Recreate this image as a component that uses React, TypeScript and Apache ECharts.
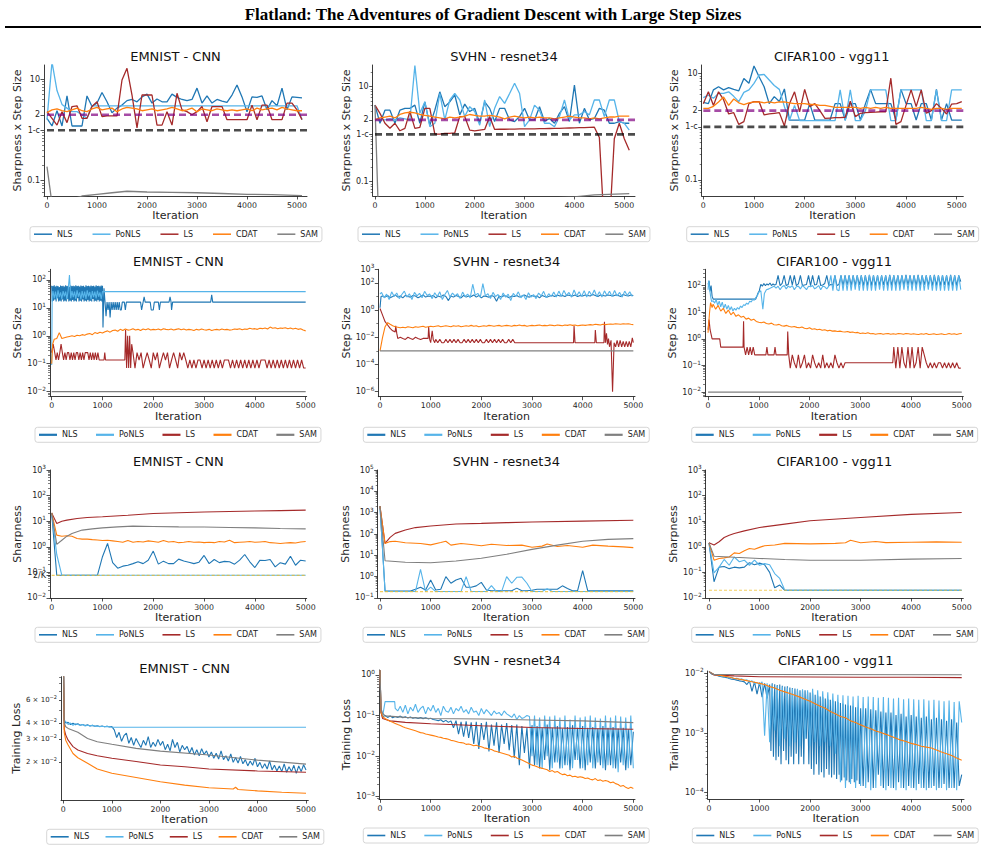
import React, { useEffect, useRef } from 'react';
import * as echarts from 'echarts';

// ---------- helpers for iteration grids ----------
const grid = (start: number, step: number, count: number): number[] =>
  Array.from({ length: count }, (_, i) => start + i * step);

// ---------- general ----------
const METHODS = ['NLS', 'PoNLS', 'LS', 'CDAT', 'SAM'];
const COLORS: Record<string, string> = {
  NLS: '#1f77b4', PoNLS: '#56b4e9', LS: '#a52a2a', CDAT: '#ff7f0e', SAM: '#7f7f7f',
};
const X_TICKS = [0, 1000, 2000, 3000, 4000, 5000];
const ONE_MINUS_C = 0.99;
const TWO = 2;
const K_EMNIST = 26, K_SVHN = 10, K_CIFAR = 100;

// ---------- tick labels ----------
const R1_TICKS = [10, 2, ONE_MINUS_C, 0.1];
const R1_LABELS = ['10', '2', '1-c', '0.1'];
const DEC2_TICKS = [100, 10, 1, 0.1, 0.01];
const DEC2_LABELS = ['10²', '10¹', '10⁰', '10⁻¹', '10⁻²'];
const SV2_TICKS = [1000, 100, 1, 0.01, 1e-4, 1e-6];
const SV2_LABELS = ['10³', '10²', '10⁰', '10⁻²', '10⁻⁴', '10⁻⁶'];
const EM3_TICKS = [1000, 100, 10, 1, 0.1, 0.01, 2 / K_EMNIST];
const EM3_LABELS = ['10³', '10²', '10¹', '10⁰', '10⁻¹', '10⁻²', '2/K'];
const SV3_TICKS = [1e5, 1e4, 1000, 100, 10, 1, 0.1, 2 / K_SVHN];
const SV3_LABELS = ['10⁵', '10⁴', '10³', '10²', '10¹', '10⁰', '10⁻¹', '2/K'];
const CI3_TICKS = [1000, 100, 10, 1, 0.1, 0.01, 2 / K_CIFAR];
const CI3_LABELS = ['10³', '10²', '10¹', '10⁰', '10⁻¹', '10⁻²', '2/K'];
const EM4_TICKS = [0.06, 0.04, 0.03, 0.02];
const EM4_LABELS = ['6 × 10⁻²', '4 × 10⁻²', '3 × 10⁻²', '2 × 10⁻²'];
const SV4_TICKS = [1, 0.1, 0.01, 0.001];
const SV4_LABELS = ['10⁰', '10⁻¹', '10⁻²', '10⁻³'];
const CI4_TICKS = [0.01, 0.001, 0.0001];
const CI4_LABELS = ['10⁻²', '10⁻³', '10⁻⁴'];

// ================= ROW 1 : Sharpness x Step Size =================
const R1_X = grid(0, 100, 52);
const EM1_NLS = [1.7,1.2,2.4,1.2,4.7,1.2,1.2,1.2,4.7,2.9, 3.4,5.5,3.6,2.2,2.7,3.1,3.8,4.0,3.6,4.5, 5.1,3.4,4.1,3.6,3.6,5.1,4.4,4.0,3.8,4.0, 6.7,3.4,4.7,3.4,4.0,3.7,3.5,4.9,7.7,4.5, 2.3,4.5,4.4,4.7,2.5,3.8,3.0,6.7,2.5,4.5, 4.4,4.3];
const EM1_PONLS_X = [0,100,200,300,400,500,600,700,800,900,5000,5100];
const EM1_PONLS = [1.6,22,6.0,3.2,2.7,2.3,2.3,2.0,1.7,3.0,3.0,1.6];
const EM1_LS = [2.3,1.7,1.25,2.3,1.4,2.9,3.0,1.7,1.7,2.9, 3.6,1.84,1.9,1.9,1.9,9.7,16.5,4.9,1.1,4.9, 4.9,4.9,1.25,1.25,2.3,1.25,5.3,2.5,2.3,2.0, 2.3,2.9,1.46,2.9,2.9,2.9,1.6,1.6,1.6,1.6, 1.6,3.1,1.6,3.1,3.1,1.6,1.6,1.6,3.4,3.4, 2.5,1.6];
const EM1_CDAT = [2.2,2.5,2.6,2.4,2.3,2.5,2.7,2.4,2.3,2.6, 2.8,2.5,2.6,2.7,2.3,2.6,2.8,2.7,2.6,2.4, 2.5,2.6,2.4,2.5,2.6,2.8,2.6,2.4,2.5,2.7, 2.3,2.6,2.5,2.4,2.6,2.5,2.4,2.5,2.4,2.5, 2.6,2.4,2.7,2.5,2.6,2.7,2.5,2.8,2.6,2.5, 2.4,2.4];
const EM1_SAM_X = [0,100,300,500,700,1000,1300,1600,2000,2500,3000,3500,4000,4500,5100];
const EM1_SAM = [0.19,0.035,0.038,0.043,0.05,0.054,0.058,0.062,0.06,0.059,0.058,0.056,0.054,0.053,0.051];

const SV1_NLS = [4.1,1.7,3.2,3.2,1.7,3.2,3.5,3.5,4.1,1.7, 4.8,1.55,3.2,7.8,3.8,4.8,6.7,2.55,4.3,3.0, 3.5,1.7,4.8,3.5,1.85,3.5,3.5,2.0,1.85,2.35, 3.5,2.0,2.0,3.8,1.85,2.15,1.7,2.75,3.8,1.85, 10.8,1.7,3.5,2.0,2.15,3.5,3.2,1.7,1.7,1.85, 1.7,1.7];
const SV1_PONLS = [2.0,2.0,2.0,2.1,2.0,2.2,2.1,2.0,28,2.75, 4.8,1.44,1.7,7.2,2.0,5.25,7.2,5.25,2.35,3.8, 3.0,1.55,5.25,1.44,3.5,6.2,4.45,7.2,11.8,7.2, 1.44,2.0,4.1,3.2,1.7,1.7,1.44,2.35,5.25,2.0, 2.55,2.55,3.0,2.55,5.25,5.25,2.35,5.25,5.25,1.85, 1.7,1.22];
const SV1_LS = [4.1,2.75,1.7,1.33,1.7,1.18,1.33,3.0,1.33,1.4, 3.5,3.5,1.0,1.0,1.04,1.04,1.07,2.35,2.35,1.22, 1.18,1.22,1.26,2.35, 1.26,1.27,1.27,1.28,1.28,1.29,1.29,1.30,1.30,1.31,1.31,1.32,1.33,1.33,1.34,1.35,1.36,1.37,1.38,1.39,1.4, 0.85,0.01,0.01,0.8,1.7,0.8,0.46];
const SV1_CDAT = [2.0,2.2,2.3,2.4,2.2,2.6,2.8,2.9,2.8,2.6, 2.5,2.4,2.3,2.2,2.1,2.3,2.2,2.3,2.4,2.6, 2.5,2.4,2.4,2.5,2.4,2.3,2.1,2.3,2.4,2.3, 2.2,2.3,2.2,2.3,2.2,2.2,2.1,2.2,2.3,2.4, 2.3,2.2,2.2,2.1,2.2,2.1,2.2,2.3,2.3,2.4, 2.4,2.4];
const SV1_SAM_X = [0,60,100,4000,4400,5100];
const SV1_SAM = [4.1,0.04,0.03,0.048,0.053,0.056];

const CI1_NLS = [2.85,2.7,4.9,5.6,4.9,5.4,5.0,4.7,8.0,6.5, 13.7,8.6,5.6,2.7,3.65,2.95,5.1,1.33,1.33,1.33, 1.33,2.7,1.33,1.33,1.33,1.33,2.7,2.7,1.33,2.7, 2.7,1.33,2.7,5.0,2.7,2.7,2.7,2.7,1.33,5.0, 2.7,2.7,1.33,2.7,2.7,1.33,5.0,1.33,2.7,1.33, 1.33,1.33];
const CI1_PONLS = [3.5,3.9,3.4,4.2,4.2,4.5,3.7,2.95,4.4,4.9, 6.5,9.3,9.5,7.5,5.9,5.0,2.37,1.3,2.5,1.3, 1.3,1.3,1.3,1.3,1.3,1.3,1.3,4.9,1.3,4.9, 1.3,1.3,2.0,4.9,4.9,4.9,4.9,1.3,1.3,4.9, 4.9,4.9,4.9,4.9,1.3,1.3,4.9,1.3,1.3,4.9, 4.9,4.9];
const CI1_LS = [2.7,4.5,2.5,4.5,3.2,1.73,1.83,1.1,1.24,2.7, 2.95,2.95,1.66,1.73,1.78,1.83,1.03,2.7,4.5,1.9, 5.0,2.37,2.7,2.0,1.43,1.45,1.47,1.48,1.5,3.0, 1.54,1.78,1.83,1.85,1.87,1.9,1.9,8.1,1.1,1.24, 2.5,4.9,2.37,4.9,1.78,2.0,2.7,2.2,1.73,2.65, 2.7,2.95];
const CI1_CDAT = [2.2,2.2,2.4,2.9,3.6,2.5,3.3,2.8,2.6,2.8, 2.9,2.9,2.8,2.9,2.8,2.9,2.9,2.8,2.7,2.7, 2.7,2.6,2.6,2.5,2.5,2.4,2.3,2.3,2.3,2.3, 2.3,2.2,2.3,2.2,2.3,2.2,2.3,2.2,2.2,2.2, 2.2,2.2,2.2,2.3,2.2,2.1,2.2,2.2,2.1,2.2, 2.2,2.2];
const CI1_SAM_X = [0, 5100];
const CI1_SAM = [0.02, 0.02];

// ================= ROW 2 : Step Size =================
const EM2_NLS_X = grid(0, 12.5, 81).concat([1010,1030,1050,1070,1090,1110,1130,1150,1170,1190,1210,1230,1250,1270,1290,1310,1330,1350,1370,1390,1430,1450,1470,1750,1770,1800,1820,1840,1940,1960,2000,2020,2100,2120,2140,2310,2330,2350,2360,2380,3130,3150,3170,5000]);
const EM2_NLS = [62,17,60,18,64,20,58,17,62,22, 60,17,56,18,63,17,60,20,62,17, 58,18,64,17,60,21,62,17,57,18, 63,17,60,19,62,17,59,18,64,17, 60,22,62,17,58,18,63,17,61,20, 62,17,57,18,64,17,60,19,62,17, 59,18,63,17,60,21,62,17,58,18, 64,17,60,19,62,17,59,18,63,17, 62,
  2.0,50,16,5,16,8.4,16,4.5,16,8.4, 16,8.4,16,8.4,16,8.4,16,8.4,8.4,16, 16,8.4,16,16,8.4,16,25,16,16,8.4, 8.4,16,16,8.4,16,16,25,16,8.4,16, 16,29,16,16];
const EM2_PONLS_X = [0, 10].concat(grid(25, 25, 40), [5000]);
const EM2_PONLS = [0.09,25, 40,22,38,20,42,24,36,21,40,26, 38,20,44,150,22,40,24,38,21,42, 25,36,20,40,23,38,21,42,26,37, 20,40,24,38,22,41,25,36,21,38, 38];
const EM2_LS_X = [0,30,60].concat(grid(85,25,35),[960,1030,1045,1060,1440],[1455,1475,1495,1515,1535,1555,1575],grid(1600,40,28),grid(2720,40,58));
const EM2_LS = [0.25,0.5,0.25,
  0.136,0.25,0.136,0.25,0.5,0.25,0.136,0.25,0.136,0.25, 0.25,0.136,0.25,0.136,0.25,0.136,0.25,0.25,0.136,0.25, 0.136,0.25,0.136,0.25,0.25,0.25,0.136,0.25,0.136,0.25, 0.136,0.25,0.136,0.25,0.136,
  0.136,0.136,0.25,0.136,0.136,
  1.6,0.07,1.0,0.07,1.0,0.07,0.5,
  0.25,0.07,0.25,0.136,0.25,0.07,0.136,0.25,0.136,0.07, 0.25,0.136,0.25,0.07,0.136,0.25,0.136,0.25,0.07,0.136, 0.25,0.136,0.07,0.25,0.136,0.25,0.136,0.07,
  0.136,0.07,0.136,0.07,0.136,0.136,0.07,0.136,0.07,0.136, 0.07,0.136,0.07,0.136,0.07,0.136,0.07,0.136,0.136,0.136, 0.07,0.136,0.07,0.136,0.07,0.136,0.07,0.136,0.07,0.136, 0.07,0.136,0.07,0.136,0.07,0.136,0.136,0.136,0.07,0.136, 0.07,0.136,0.07,0.136,0.07,0.136,0.07,0.136,0.07,0.136, 0.07,0.136,0.07,0.136,0.07,0.136,0.07,0.07];
const EM2_CDAT_X = [0,20,50].concat(grid(100,50,99));
const EM2_CDAT = [0.1,0.5,0.75,
  0.8,1.3,0.8,0.85,0.9,0.95,1.0,0.95,1.05,1.0, 1.1,1.05,1.15,1.2,1.1,1.3,1.2,1.35,1.25,
  1.4,1.5,1.35,1.55,1.6,1.45,1.7,1.55,1.75,1.6, 1.65,1.8,1.6,1.7,1.55,1.75,1.65,1.8,1.6,1.7, 1.65,1.75,1.6,1.8,1.7,1.65,1.75,1.6,1.7,1.8, 1.65,1.75,1.6,1.7,1.65,1.55,1.7,1.6,1.75,1.65,
  1.6,1.7,1.55,1.65,1.7,1.6,1.75,1.65,1.7,1.6, 1.65,1.75,1.7,1.8,1.65,1.75,1.7,1.85,1.75,1.8, 1.7,1.85,1.8,1.9,1.75,2.05,1.85,1.95,1.8,1.9, 1.85,1.95,1.8,1.9,1.75,1.85,1.7,1.8,1.6,1.5];
const EM2_SAM_X = [0, 5000];
const EM2_SAM = [0.01, 0.01];

const SV2_NLS_X = [0, 20].concat(grid(50, 50, 100));
const SV2_NLS = [1.5, 10,
  11,9,12,8,10,13,9,11,8,12, 10,9,12,11,8,10,13,9,11,10, 12,8,11,9,13,10,5,11,9,12, 10,8,12,9,11,10,13,9,12,8, 11,10,9,12,10,4.5,11,9,12,10,
  8,11,10,12,9,11,13,10,9,12, 10,11,8,12,10,9,11,12,10,13, 11,12,10,13,12,11,13,10,12,11, 13,12,11,14,12,10,13,12,11,13, 12,11,13,12,10,14,12,11,13,12];
const SV2_PONLS_X = [0].concat(grid(30, 50, 100));
const SV2_PONLS = [15,
  20,8,15,6,22,10,18,7,14,25, 9,16,6,20,11,17,8,24,12,15, 7,19,10,22,6,14,28,9,18,11, 16,7,21,10,15,8,80,12,17,9, 90,11,16,7,20,10,14,6,18,9,
  15,5,17,10,22,8,13,6,19,9, 14,7,18,11,24,8,16,10,21,9, 25,10,28,12,20,9,30,11,22,10, 27,9,24,12,30,10,22,9,26,12, 24,10,28,11,20,9,25,12,22,10];
const SV2_LS_X = [0,50,100,150,200,250,300,310,330,350,400,450,500,550,600,650,700,750,800,850,900,950,960,980,1000,1030,1050,1080]
  .concat(grid(1100, 40, 41), [2720,3820,3830,3850,4240,4250,4270,4420,4430,4450,4470,4490,4510,4530,4560,4590,4620,4650,4680,4710,4740,4770,4800,4830,4860,4890,4920,4950,4980,5000]);
const SV2_LS = [1.3,0.43,0.14,0.08,0.045,0.03,0.025,0.07,0.02,0.0083, 0.01,0.0083,0.007,0.01,0.0083,0.007,0.01,0.0083,0.007,0.0083, 0.0083,0.0083,0.06,0.007,0.004,0.03,0.007,0.004,
  0.007,0.004,0.007,0.004,0.004,0.007,0.004,0.007,0.004,0.007, 0.004,0.007,0.004,0.004,0.007,0.004,0.007,0.004,0.007,0.004, 0.007,0.004,0.007,0.004,0.004,0.007,0.004,0.007,0.004,0.007, 0.004,0.007,0.004,0.007,0.004,0.004,0.007,0.004,0.007,0.004, 0.004,
  0.004,0.004,0.07,0.004,0.004, 0.034,0.004,0.004,0.14,0.004, 0.02,0.003,0.008,0.002,0.006, 1e-6,0.004,0.002,0.006,0.002, 0.006,0.002,0.005,0.002,0.005, 0.002,0.005,0.002,0.009,0.004];
const SV2_CDAT_X = [0,50,100,150].concat(grid(200, 50, 97));
const SV2_CDAT = [0.001,0.01,0.06,0.12,
  0.09,0.07,0.06,0.055,0.05,0.055,0.05,0.06,0.055,0.05,0.06,0.055,0.06,0.065,0.055,0.06,0.065,
  0.06,0.065,0.07,0.06,0.065,0.07,0.065,0.06,0.07,0.065, 0.07,0.06,0.065,0.07,0.065,0.075,0.065,0.07,0.06,0.065,
  0.07,0.065,0.075,0.07,0.065,0.07,0.075,0.065,0.07,0.075, 0.07,0.065,0.075,0.07,0.08,0.07,0.075,0.065,0.07,0.075,
  0.07,0.075,0.08,0.07,0.075,0.07,0.08,0.075,0.07,0.08, 0.075,0.07,0.08,0.075,0.085,0.075,0.08,0.07,0.075,0.08,
  0.075,0.08,0.085,0.08,0.09,0.085,0.08,0.09,0.085,0.09, 0.095,0.09,0.1,0.095,0.09,0.1,0.095,0.1,0.09,0.085];
const SV2_SAM_X = [0, 5000];
const SV2_SAM = [0.001, 0.001];

const CI2_NLS_X = [0,20,40,60,80,100,940,980,1010,1040,1070,1100,1130,1160,1190,1220,1250,1280,1310,1340].concat(grid(1380, 40, 91));
const CI2_NLS = [110,150,60,100,40,31,31,50,64,110,95,120,100,115,105,125,100,115,105,110,
  240,100,120,240,100,110,240,105,240,100, 115,240,100,105,110,240,100,240,105,110, 240,100,105,120,240,100,110,105,240,100,
  110,240,100,240,105,240,100,240,100,240, 105,240,100,240,100,250,100,240,100,240, 100,240,105,240,100,250,100,240,100,240,
  100,240,100,250,105,240,100,240,100,250, 100,240,105,240,100,240,100,250,100,240, 100,240,105,240,100,250,100,240,100,240, 140];
const CI2_PONLS_X = [0,15,30,50,70,100].concat(grid(130,30,30),[1040,1080,1110,1150,1200,1250,1300],grid(1340,40,27),grid(2420,40,65));
const CI2_PONLS = [70,155,80,40,25,27,
  22,30,18,26,16,24,14,20,13,18, 12,16,11,14,12,15,13,17,15,19, 18,22,20,26,24,30,28,36,40,56,
  64,13,50,70,75,85,95,
  80,95,70,90,100,75,95,85,100,70, 90,95,75,100,85,70,95,90,100,75, 85,100,70,95,90,75,95,
  240,64,240,70,64,240,64,240,64,240, 64,240,70,240,64,240,64,240,64,250, 64,240,64,240,70,240,64,240,64,240,
  64,250,64,240,64,240,70,240,64,240, 64,240,64,250,64,240,64,240,70,240, 64,240,64,240,64,250,64,240,64,240, 64,240,64,240,70];
const CI2_LS_X = [0,20,40,80,100,230,250,690,700,710,740,770,800,830,860,890,920,950,1140,1160,1180,1300,1320,1340,1560,1570,1590]
  .concat(grid(1620,40,28),[2720,3640],grid(3660,40,16),grid(4300,40,18));
const CI2_LS = [2.2,5.3,2.2,1.0,1.0,1.0,0.49,0.49,4.6,0.49,0.25,0.49,0.25,0.49,0.25,0.49,0.25,0.25,0.25,0.49,0.25,0.25,0.49,0.25,0.25,1.9,0.25,
  0.08,0.25,0.127,0.08,0.25,0.08,0.127,0.25,0.08,0.127, 0.08,0.25,0.127,0.08,0.127,0.08,0.25,0.08,0.127,0.08, 0.127,0.08,0.25,0.127,0.08,0.127,0.08,0.127,
  0.127,0.127,
  0.49,0.08,0.49,0.08,0.49,0.127,0.08,0.49,0.08,0.49, 0.08,0.127,0.49,0.08,0.49,0.25,
  0.127,0.08,0.127,0.08,0.127,0.08,0.127,0.127,0.08,0.127, 0.08,0.127,0.08,0.127,0.08,0.127,0.08,0.08];
const CI2_CDAT_X = [0,30,50,80,100].concat(grid(150,50,98));
const CI2_CDAT = [1.7,10,23,15,20,
  13,18,11,14,9,12,8,10,7,8, 6.5,7,5.5,6,5,5.5,4.5,4.2,
  4,4.3,3.8,3.6,3.9,3.4,3.3,3.5,3.1,3.0, 3.2,2.9,2.8,2.9,2.7,2.6,2.8,2.5,2.4,2.6,
  2.3,2.4,2.2,2.3,2.1,2.2,2.0,2.1,1.95,2.0, 1.9,1.95,1.85,1.8,1.9,1.75,1.8,1.7,1.75,1.6,
  1.65,1.6,1.7,1.55,1.6,1.5,1.55,1.6,1.5,1.55, 1.6,1.5,1.55,1.5,1.6,1.55,1.5,1.6,1.55,1.5,
  1.55,1.5,1.45,1.55,1.5,1.6,1.45,1.5,1.55,1.45, 1.5,1.55,1.45,1.5,1.6,1.5,1.55,1.45,1.55,1.6];
const CI2_SAM_X = [0, 5000];
const CI2_SAM = [0.01, 0.01];

// ================= ROW 3 : Sharpness =================
const R3_X = grid(0, 100, 51);
const EM3_NLS = [21,0.077,0.077,0.077,0.077,0.077,0.077,0.077,0.077,0.077, 0.41,1.35,0.24,0.146,0.175,0.19,0.22,0.26,0.22,0.30, 0.68,0.21,0.275,0.22,0.22,0.33,0.28,0.25,0.22,0.25, 0.46,0.22,0.32,0.24,0.27,0.26,0.21,0.30,0.50,0.26, 0.155,0.30,0.29,0.32,0.165,0.24,0.21,0.43,0.19,0.30, 0.28];
const EM3_PONLS_X = [0,100,200,5000];
const EM3_PONLS = [21,0.5,0.077,0.077];
const EM3_LS_X = [0,100,200,300,500,700,1000,1500,2000,2500,3000,3500,4000,4500,5000];
const EM3_LS = [21,8.1,10,11,12.7,14,15,17,20,21.5,23,24,25,26,27];
const EM3_CDAT = [21,2.85,2.6,2.7,2.6,2.1,2.0,2.0,1.9,1.85, 1.75,1.8,1.7,1.6,1.5,1.75,1.5,1.6,1.55,1.7, 1.6,1.5,1.75,1.55,1.6,1.45,1.5,1.6,1.5,1.55, 1.45,1.5,1.45,1.6,1.55,1.8,1.45,1.5,1.55,1.6, 1.5,1.55,1.6,1.45,1.4,1.35,1.4,1.45,1.4,1.55, 1.6];
const EM3_SAM_X = [0,100,200,300,400,600,800,1000,1300,1600,2000,2500,3000,3500,4000,4500,5000];
const EM3_SAM = [21,1.24,1.8,2.6,3.3,4.5,5.0,5.5,6.0,6.4,6.2,6.0,5.9,5.7,5.5,5.2,5.0];

const SV3_NLS = [2000,0.22,0.21,0.21,0.21,0.21,0.21,0.255,0.32,0.237, 0.70,0.237,0.255,1.0,0.49,0.70,0.84,0.32,0.32,0.37, 0.54,0.237,0.22,0.22,0.22,0.22,0.22,0.29,0.22,0.22, 0.23,0.255,0.255,0.255,0.255,0.255,0.37,0.28,0.22,0.22, 1.9,0.22,0.22,0.22,0.22,0.22,0.22,0.22,0.22,0.22, 0.22];
const SV3_PONLS = [2000,0.2,0.2,0.2,0.2,0.2,0.2,0.2,2.2,0.2, 0.32,0.2,0.2,0.2,0.2,0.2,0.2,1.0,0.2,0.2, 0.2,0.2,0.38,0.2,0.2,1.0,0.49,0.93,0.95,0.49, 0.2,0.2,0.2,0.27,0.2,0.2,0.2,0.2,0.2,0.2, 0.2,0.2,0.2,0.2,0.2,0.2,0.2,0.2,0.2,0.2, 0.2];
const SV3_LS_X = [0,100,200,300,500,700,1000,1500,2000,2500,3000,4000,5000];
const SV3_LS = [2000,36,69,107,155,200,237,295,316,340,365,400,440];
const SV3_CDAT_X = [0,100,200,300,500,800,1000,1200,1300,1400,1600,1800,2000,2200,2500,2800,3000,3200,3300,3500,3700,4000,4200,4500,4800,5000];
const SV3_CDAT = [2000,36,44,46,39,36,31,40,46,30,36,32,28,33,29,30,24,27,34,26,29,24,30,27,25,23];
const SV3_SAM_X = [0,100,500,1000,1500,2000,2500,3000,3500,4000,4500,5000];
const SV3_SAM = [2000,5.6,4.7,4.5,5.4,7.3,11.2,19,30,46,56,61];

const CI3_EARLY_X = grid(0, 100, 16).concat([5000]);
const CI3_NLS = [1.43,0.043,0.16,0.17,0.14,0.16,0.15,0.16,0.24,0.2,0.23,0.2,0.1,0.025,0.032,0.02,0.02];
const CI3_PONLS = [1.43,0.095,0.16,0.32,0.19,0.4,0.26,0.3,0.19,0.3,0.19,0.22,0.2,0.09,0.058,0.02,0.02];
const CI3_LS_X = [0,100,200,300,400,500,700,1000,1500,2000,3000,4000,5000];
const CI3_LS = [1.43,1.17,1.57,2.3,2.8,3.3,4.2,5.7,7.7,10.4,14,18.5,22];
const CI3_CDAT_X = [0,100,200,300,400,500,600,700,800,900,1000,1100,1300,1500,2000,2500,2700,2800,3000,3300,3500,4000,4500,5000];
const CI3_CDAT = [1.43,0.30,0.35,0.37,0.4,0.58,0.55,0.7,0.86,0.8,0.95,1.1,1.17,1.36,1.3,1.36,1.43,1.8,1.43,1.6,1.45,1.5,1.55,1.5];
const CI3_SAM_X = [0,100,500,1000,1500,2000,3000,4000,5000];
const CI3_SAM = [1.43,0.43,0.39,0.35,0.32,0.30,0.30,0.33,0.35];

// ================= ROW 4 : Training Loss =================
const EM4_NLS_X = [0,20].concat(grid(50,50,99),[5000]);
const EM4_NLS = [0.15,0.042,
  0.04,0.0405,0.039,0.0398,0.0388,0.0395,0.0385,0.039,0.0383,0.0388,0.038,0.0384,0.0378,0.0382,0.0376,0.038,0.0375,0.0378,0.0374,0.0376,
  0.0355,0.031,0.034,0.029,0.032,0.0335,0.028,0.031,0.027,0.0305, 0.028,0.026,0.0295,0.027,0.0315,0.026,0.0285,0.0265,0.03,0.027,
  0.029,0.025,0.0275,0.0245,0.03,0.026,0.0285,0.024,0.027,0.025, 0.0265,0.0235,0.026,0.0228,0.025,0.0225,0.0255,0.023,0.0245,0.022,
  0.024,0.0215,0.0235,0.0212,0.0245,0.021,0.0225,0.0205,0.0232,0.02, 0.0218,0.0198,0.0222,0.0195,0.021,0.0188,0.0205,0.019,0.0215,0.0185,
  0.02,0.018,0.0195,0.0178,0.0205,0.0175,0.019,0.0172,0.0188,0.017, 0.0195,0.0168,0.0185,0.017,0.019,0.0165,0.0188,0.017,0.0192,
  0.0175];
const EM4_PONLS_X = [0,20].concat(grid(50,50,20),[5000]);
const EM4_PONLS = [0.15,0.042, 0.041,0.039,0.040,0.0385,0.0395,0.039,0.0385,0.039,0.038,0.0385,0.038,0.0385,0.0378,0.038,0.0375,0.0378,0.0375,0.0377,0.0375,0.0372, 0.0372];
const EM4_LS_X = [0,20,50,100,200,300,500,700,1000,1500,2000,2500,3000,4000,5000];
const EM4_LS = [0.15,0.036,0.0324,0.0296,0.0264,0.0249,0.0234,0.0225,0.0215,0.0203,0.0191,0.0185,0.0178,0.0172,0.0168];
const EM4_CDAT_X = [0,20,50,100,200,300,500,700,1000,1500,2000,2500,3000,3500,3550,3600,4000,4500,5000];
const EM4_CDAT = [0.15,0.034,0.0296,0.0272,0.0234,0.0217,0.0197,0.0178,0.0165,0.0153,0.0142,0.0134,0.0128,0.0125,0.0129,0.0124,0.0121,0.0118,0.0116];
const EM4_SAM_X = [0,20,50,100,300,500,700,1000,1500,2000,3000,4000,5000];
const EM4_SAM = [0.15,0.04,0.0375,0.0364,0.034,0.0305,0.0288,0.0275,0.0256,0.0244,0.0228,0.0208,0.0194];

const SV4_NLS_X = [0,20].concat(grid(50,50,100));
const SV4_NLS = [1.3,0.12,
  0.094,0.1,0.09,0.098,0.088,0.095,0.09,0.097,0.088,0.093, 0.087,0.092,0.086,0.09,0.085,0.089,0.084,0.088,0.083,0.086,
  0.08,0.078,0.075,0.079,0.07,0.076,0.068,0.074,
  0.05,0.075,0.035,0.07,0.03,0.072,0.028,0.068,
  0.02,0.07,0.015,0.065,0.025,0.07,0.013,0.06,0.018,0.068,0.012,0.06,0.02,0.065,0.014,0.058,
  0.009,0.06,0.006,0.055,0.012,0.05,0.005,0.058,
  0.006,0.055,0.005,0.05,0.008,0.06,0.0045,0.05,0.007,0.055, 0.005,0.048,0.006,0.052,0.0045,0.058,0.008,0.05,0.005,0.055,
  0.0045,0.05,0.007,0.052,0.005,0.048,0.006,0.055,0.0045,0.05, 0.006,0.052,0.005,0.048,0.007,0.05,0.0045,0.046,0.006,0.04];
const SV4_PONLS_X = [0,20,50,100,290,300].concat(grid(350,50,94));
const SV4_PONLS = [1.3,0.12,0.094,0.22,0.22,0.15,
  0.13,0.17,0.12,0.18,0.11,0.16,0.13,0.19,0.12,0.15, 0.17,0.11,0.16,0.13,0.18,0.12,0.15,0.1,0.17,0.13,
  0.12,0.16,0.11,0.15,0.13,0.17,0.12,0.14,0.11,0.16, 0.12,0.13,0.1,0.15,0.11,0.14,0.12,0.1,0.13,0.11, 0.12,0.1,0.13,0.11,
  0.1,0.09,0.11,0.08,0.1,0.085,0.09,0.1,0.095,0.01,
  0.1,0.006,0.09,0.005,0.1,0.01,0.095,0.005,0.1,0.007, 0.09,0.005,0.1,0.006,0.08,0.005,0.1,0.008,0.09,0.005,
  0.095,0.006,0.1,0.005,0.09,0.007,0.085,0.005,0.1,0.006, 0.09,0.005,0.1,0.004,0.095,0.006,0.09,0.005,0.1,0.005];
const SV4_LS_X = [0,20,50,200,500,1000,2000,3000,4000,5000];
const SV4_LS = [1.3,0.12,0.085,0.074,0.068,0.063,0.056,0.051,0.048,0.046];
const SV4_CDAT_X = [0,20].concat(grid(50,50,100));
const SV4_CDAT = [1.3,0.12,
  0.094,0.085,0.078,0.072,0.068,0.064,0.06,0.057,0.053,0.05, 0.048,0.046,0.044,0.042,0.04,0.038,0.037,0.035,0.034,0.033,
  0.032,0.031,0.0295,0.029,0.0275,0.027,0.026,0.0245,0.024,0.023, 0.022,0.0215,0.021,0.0195,0.02,0.019,0.018,0.0185,0.0175,0.017,
  0.016,0.0155,0.015,0.0145,0.0135,0.013,0.0125,0.012,0.0115,0.011, 0.0105,0.0095,0.01,0.009,0.0085,0.008,0.0075,0.007,0.0065,0.006,
  0.0058,0.0055,0.0052,0.005,0.0048,0.0046,0.0042,0.0044,0.004,0.0042, 0.0038,0.0035,0.0036,0.0033,0.0034,0.0031,0.0032,0.003,0.0031,0.003,
  0.0028,0.0029,0.0027,0.0026,0.0028,0.0025,0.0026,0.0024,0.0025,0.0024, 0.0022,0.0023,0.0021,0.002,0.0018,0.0019,0.0017,0.0016,0.0017,0.0016];
const SV4_SAM_X = [0,20,50,100,500,1000,2000,3000,4000,5000];
const SV4_SAM = [1.3,0.15,0.114,0.098,0.09,0.085,0.082,0.078,0.074,0.067];

const CI4_NLS_X = [0].concat(grid(50,50,24), grid(1225,25,72), grid(3050,50,40));
const CI4_NLS = [0.0107,
  0.0098,0.0095,0.0093,0.009,0.0088,0.0086,0.0085,0.0082,0.008,0.0079,0.0077,0.0075,0.0074,0.0072,
  0.0065,0.0075,0.005,0.0072,0.0045,0.007,0.004,0.0068,0.0038,0.0065,
  0.0005,0.0068,0.0004,0.0066,0.00035,0.0064,0.0004,0.0065,0.0003,0.0062,0.0005,0.006,0.00035,0.0061,0.0003,0.0058,
  0.0004,0.0057,0.0003,0.0056,0.00045,0.0054,0.0003,0.0052,0.0004,0.005,0.0003,0.0052,0.0008,0.0049,0.0003,0.0048,
  0.00025,0.0046,0.0002,0.0044,0.0003,0.0042,0.0002,0.0041,0.00022,0.004,0.00018,0.0038,0.00025,0.0037,0.0002,0.0036,0.00018,0.0035,0.0002,0.0034,
  0.00017,0.0033,0.0002,0.0032,0.00016,0.0031,0.00018,0.003,0.00016,0.0029,0.00015,0.0029,0.00017,0.0028,0.00015,0.0027,0.00016,0.0027,0.00014,0.0026,
  0.00013,0.0026,0.00015,0.0025,0.00012,0.0024,0.0002,0.0023,0.00012,0.0022, 0.00013,0.0022,0.00012,0.002,0.00015,0.0021,0.00012,0.0019,0.00013,0.002,
  0.00012,0.0019,0.00014,0.0018,0.00012,0.0019,0.00012,0.0017,0.00013,0.0018, 0.00012,0.0017,0.00014,0.0016,0.00012,0.0017,0.00012,0.0015,0.00013,0.0002];
const CI4_PONLS_X = [0].concat(grid(50,50,100));
const CI4_PONLS = [0.0107,
  0.0099,0.0096,0.0094,0.0092,0.009,0.0087,0.0089,0.0084,0.0086,0.0081, 0.0083,0.0079,0.0081,0.0076,0.0078,0.0072,0.0075,0.0068,0.007,0.0064,
  0.0072,0.0009,0.0068,0.0007,0.0065,0.0011,0.0062,0.0006,0.006,0.0008, 0.0058,0.0006,0.0056,0.0007,0.0055,0.0006,0.0054,0.0008,0.0052,0.0006,
  0.0055,0.0007,0.0052,0.0006,0.005,0.0007,0.0048,0.0006,0.0046,0.00045,
  0.0044,0.00015,0.0043,0.00012,0.0042,0.00014,0.0041,0.00012,0.0042,0.00013, 0.004,0.00012,0.0041,0.00011,0.004,0.00012,0.0039,0.00013,0.004,0.00011,
  0.0039,0.00012,0.0038,0.00011,0.0039,0.00012,0.0037,0.00011,0.0038,0.00012, 0.0037,0.00011,0.0036,0.00012,0.0037,0.00011,0.0035,0.00012,0.0036,0.00011,
  0.0035,0.00012,0.0034,0.00011,0.0035,0.00012,0.0033,0.00011,0.0034,0.0015];
const CI4_LS_X = [0,100,500,1000,2000,3000,4000,5000];
const CI4_LS = [0.0107,0.0094,0.0091,0.0088,0.0087,0.0086,0.0086,0.0085];
const CI4_CDAT_X = grid(0,100,51);
const CI4_CDAT = [0.0107,0.0096,0.0093,0.009,0.0087,0.0082,0.008,0.0077,0.0074,0.0071, 0.0068,0.0065,0.006,0.0057,0.0052,0.0049,0.0046,0.0043,0.004,0.0037, 0.0034,0.0031,0.0028,0.0026,0.0023,0.0021,0.0019,0.0018,0.0016,0.0015, 0.00137,0.00126,0.00118,0.00108,0.00102,0.00095,0.00088,0.00082,0.00076,0.00072, 0.00067,0.00064,0.0006,0.00058,0.00056,0.00052,0.00048,0.00045,0.00042,0.00038, 0.00035];
const CI4_SAM_X = [0,100,5000];
const CI4_SAM = [0.0107,0.0096,0.0095];

// ---------- layout / styling ----------
type Ser = { name: string; x: number[]; y: number[] };
type HL = { v: number; color: string; width: number; dash: number[]; x0: number; x1: number };
type Panel = {
  title: string; tx: number; ty: number;
  yName: string; yGap: number; xGap: number;
  box: number[]; xr: number[]; yr: number[];
  ticks: number[]; labels: string[]; labelSize?: number; majorLen?: number;
  minor: number[]; series: Ser[]; hl: HL[]; lg: number[]; lgH: number; lw: number;
};

const S = (name: string, x: number[], y: number[]): Ser => ({ name, x, y });

function logSubs(lo: number, hi: number, exclude: number[] = []): number[] {
  const out: number[] = [];
  for (let k = Math.floor(lo) - 1; k <= Math.ceil(hi); k++) {
    for (let m = 2; m <= 9; m++) {
      const v = k + Math.log10(m);
      if (v >= lo && v <= hi && !exclude.some((e) => Math.abs(Math.log10(e) - v) < 1e-6)) out.push(v);
    }
  }
  return out;
}

const SUP_MAP: Record<string, string> = { '⁻': '−', '⁰': '0', '¹': '1', '²': '2', '³': '3', '⁴': '4', '⁵': '5', '⁶': '6', '⁷': '7', '⁸': '8', '⁹': '9' };
function richLabel(s: string): string {
  const m = s.match(/^(.*?)([⁻⁰¹²³⁴⁵⁶⁷⁸⁹]+)$/);
  if (!m) return `{b|${s}}`;
  const exp = m[2].split('').map((c) => SUP_MAP[c] ?? c).join('');
  return `{b|${m[1]}}{s|${exp}}`;
}

const PURPLE = 'rgba(128,0,128,0.7)';
const DARK = 'rgba(0,0,0,0.7)';
const GOLD = 'rgba(240,190,40,0.75)';

const r1HL = (x1: number): HL[] => [
  { v: TWO, color: PURPLE, width: 2.6, dash: [7, 4], x0: 0, x1 },
  { v: ONE_MINUS_C, color: DARK, width: 2.6, dash: [7, 4], x0: 0, x1 },
];
const kHL = (K: number): HL[] => [{ v: 2 / K, color: GOLD, width: 1.2, dash: [3, 2], x0: 0, x1: 5000 }];

const PANELS: Panel[] = [
  { title: 'EMNIST - CNN', tx: 175.5, ty: 56, yName: 'Sharpness x Step Size', yGap: 19.5, xGap: 14,
    box: [44, 65, 263, 131], xr: [-60, 5200], yr: [-1.301, 1.282], ticks: R1_TICKS, labels: R1_LABELS,
    minor: logSubs(-1.301, 1.282, [2]), lw: 1.3, lgH: 1.5, lg: [30, 226.7, 20], hl: r1HL(5200),
    series: [S('NLS', R1_X, EM1_NLS), S('PoNLS', EM1_PONLS_X, EM1_PONLS), S('LS', R1_X, EM1_LS), S('CDAT', R1_X, EM1_CDAT), S('SAM', EM1_SAM_X, EM1_SAM)] },
  { title: 'SVHN - resnet34', tx: 504, ty: 56, yName: 'Sharpness x Step Size', yGap: 21.2, xGap: 14,
    box: [372.7, 65, 262.3, 131], xr: [-46, 5215], yr: [-1.301, 1.457], ticks: R1_TICKS, labels: R1_LABELS,
    minor: logSubs(-1.301, 1.457, [2]), lw: 1.3, lgH: 1.5, lg: [358, 226.7, 20], hl: r1HL(5215),
    series: [S('NLS', R1_X, SV1_NLS), S('PoNLS', R1_X, SV1_PONLS), S('LS', R1_X, SV1_LS), S('CDAT', R1_X, SV1_CDAT), S('SAM', SV1_SAM_X, SV1_SAM)] },
  { title: 'CIFAR100 - vgg11', tx: 831.7, ty: 56, yName: 'Sharpness x Step Size', yGap: 21.9, xGap: 14,
    box: [701.7, 65, 261.6, 131], xr: [-32, 5130], yr: [-1.301, 1.156], ticks: R1_TICKS, labels: R1_LABELS,
    minor: logSubs(-1.301, 1.156, [2]), lw: 1.3, lgH: 1.5, lg: [686.7, 226.7, 20], hl: r1HL(5130),
    series: [S('NLS', R1_X, CI1_NLS), S('PoNLS', R1_X, CI1_PONLS), S('LS', R1_X, CI1_LS), S('CDAT', R1_X, CI1_CDAT), S('SAM', CI1_SAM_X, CI1_SAM)] },

  { title: 'EMNIST - CNN', tx: 178.3, ty: 261, yName: 'Step Size', yGap: 25.5, xGap: 14.5,
    box: [50, 269.3, 256.7, 127.4], xr: [-33, 5020], yr: [-2.18, 2.38], ticks: DEC2_TICKS, labels: DEC2_LABELS,
    minor: logSubs(-2.18, 2.38), lw: 1.1, lgH: 2.2, lg: [35, 427.3, 18.5], hl: [],
    series: [S('NLS', EM2_NLS_X, EM2_NLS), S('PoNLS', EM2_PONLS_X, EM2_PONLS), S('LS', EM2_LS_X, EM2_LS), S('CDAT', EM2_CDAT_X, EM2_CDAT), S('SAM', EM2_SAM_X, EM2_SAM)] },
  { title: 'SVHN - resnet34', tx: 506.7, ty: 261, yName: 'Step Size', yGap: 26.8, xGap: 14.5,
    box: [378.3, 269.3, 256.7, 127.4], xr: [-34, 5033], yr: [-6.37, 3.001], ticks: SV2_TICKS, labels: SV2_LABELS,
    minor: [1, -1, -3, -5], lw: 1.1, lgH: 2.2, lg: [363.3, 427.3, 18.5], hl: [],
    series: [S('NLS', SV2_NLS_X, SV2_NLS), S('PoNLS', SV2_PONLS_X, SV2_PONLS), S('LS', SV2_LS_X, SV2_LS), S('CDAT', SV2_CDAT_X, SV2_CDAT), S('SAM', SV2_SAM_X, SV2_SAM)] },
  { title: 'CIFAR100 - vgg11', tx: 834.3, ty: 261, yName: 'Step Size', yGap: 25.5, xGap: 14.5,
    box: [705, 269.3, 258.3, 127.4], xr: [-60, 5030], yr: [-2.17, 2.61], ticks: DEC2_TICKS, labels: DEC2_LABELS,
    minor: logSubs(-2.17, 2.61), lw: 1.1, lgH: 2.2, lg: [691.7, 427.3, 18.5], hl: [],
    series: [S('NLS', CI2_NLS_X, CI2_NLS), S('PoNLS', CI2_PONLS_X, CI2_PONLS), S('LS', CI2_LS_X, CI2_LS), S('CDAT', CI2_CDAT_X, CI2_CDAT), S('SAM', CI2_SAM_X, CI2_SAM)] },

  { title: 'EMNIST - CNN', tx: 178.3, ty: 461, yName: 'Sharpness', yGap: 26.8, xGap: 13.2,
    box: [50, 470, 256.7, 128], xr: [-33, 5020], yr: [-2.001, 3.001], ticks: EM3_TICKS, labels: EM3_LABELS,
    minor: logSubs(-2.001, 3.001), lw: 1.1, lgH: 1.6, lg: [35, 627.3, 18.5], hl: kHL(K_EMNIST),
    series: [S('NLS', R3_X, EM3_NLS), S('PoNLS', EM3_PONLS_X, EM3_PONLS), S('LS', EM3_LS_X, EM3_LS), S('CDAT', R3_X, EM3_CDAT), S('SAM', EM3_SAM_X, EM3_SAM)] },
  { title: 'SVHN - resnet34', tx: 506.3, ty: 461, yName: 'Sharpness', yGap: 26.2, xGap: 13.2,
    box: [377.7, 470, 257.3, 128], xr: [-45, 5033], yr: [-1.001, 5.001], ticks: SV3_TICKS, labels: SV3_LABELS,
    minor: logSubs(-1.001, 5.001), lw: 1.1, lgH: 1.6, lg: [363, 627.3, 18.5], hl: kHL(K_SVHN),
    series: [S('NLS', R3_X, SV3_NLS), S('PoNLS', R3_X, SV3_PONLS), S('LS', SV3_LS_X, SV3_LS), S('CDAT', SV3_CDAT_X, SV3_CDAT), S('SAM', SV3_SAM_X, SV3_SAM)] },
  { title: 'CIFAR100 - vgg11', tx: 834.5, ty: 461, yName: 'Sharpness', yGap: 26.2, xGap: 13.2,
    box: [705.7, 470, 257.6, 128], xr: [-65, 5032], yr: [-2.001, 3.001], ticks: CI3_TICKS, labels: CI3_LABELS,
    minor: logSubs(-2.001, 3.001), lw: 1.1, lgH: 1.6, lg: [691.7, 627.3, 18.5], hl: kHL(K_CIFAR),
    series: [S('NLS', CI3_EARLY_X, CI3_NLS), S('PoNLS', CI3_EARLY_X, CI3_PONLS), S('LS', CI3_LS_X, CI3_LS), S('CDAT', CI3_CDAT_X, CI3_CDAT), S('SAM', CI3_SAM_X, CI3_SAM)] },

  { title: 'EMNIST - CNN', tx: 184.7, ty: 668.3, yName: 'Training Loss', yGap: 37.8, xGap: 12.8,
    box: [61, 676.7, 247.3, 123.3], xr: [-47, 5047], yr: [-1.987, -1.043], ticks: EM4_TICKS, labels: EM4_LABELS, labelSize: 7, majorLen: 2,
    minor: logSubs(-1.987, -1.043, EM4_TICKS), lw: 1.1, lgH: 1.6, lg: [46.7, 829.3, 16.3], hl: [],
    series: [S('NLS', EM4_NLS_X, EM4_NLS), S('PoNLS', EM4_PONLS_X, EM4_PONLS), S('LS', EM4_LS_X, EM4_LS), S('CDAT', EM4_CDAT_X, EM4_CDAT), S('SAM', EM4_SAM_X, EM4_SAM)] },
  { title: 'SVHN - resnet34', tx: 507, ty: 660, yName: 'Training Loss', yGap: 27.5, xGap: 12.5,
    box: [379, 670, 256, 129.3], xr: [-20, 5033], yr: [-3.064, 0.123], ticks: SV4_TICKS, labels: SV4_LABELS,
    minor: logSubs(-3.064, 0.123), lw: 1.1, lgH: 1.6, lg: [363.3, 828, 18.5], hl: [],
    series: [S('NLS', SV4_NLS_X, SV4_NLS), S('PoNLS', SV4_PONLS_X, SV4_PONLS), S('LS', SV4_LS_X, SV4_LS), S('CDAT', SV4_CDAT_X, SV4_CDAT), S('SAM', SV4_SAM_X, SV4_SAM)] },
  { title: 'CIFAR100 - vgg11', tx: 835.8, ty: 660, yName: 'Training Loss', yGap: 28.2, xGap: 12.5,
    box: [707.7, 671, 256.3, 128], xr: [-26, 5045], yr: [-4.106, -1.96], ticks: CI4_TICKS, labels: CI4_LABELS,
    minor: logSubs(-4.106, -1.96), lw: 1.1, lgH: 1.6, lg: [692.3, 828, 18.5], hl: [],
    series: [S('NLS', CI4_NLS_X, CI4_NLS), S('PoNLS', CI4_PONLS_X, CI4_PONLS), S('LS', CI4_LS_X, CI4_LS), S('CDAT', CI4_CDAT_X, CI4_CDAT), S('SAM', CI4_SAM_X, CI4_SAM)] },
];

const FONT = 'DejaVu Sans';
const INK = '#262626';

function buildOption() {
  const grids: any[] = [], xAxes: any[] = [], yAxes: any[] = [], series: any[] = [], legends: any[] = [];
  const graphics: any[] = [
    { type: 'line', shape: { x1: 5, y1: 27, x2: 981, y2: 27 }, style: { stroke: '#000', lineWidth: 1.8 }, silent: true },
  ];
  const titles: any[] = [{
    text: 'Flatland: The Adventures of Gradient Descent with Large Step Sizes',
    left: 493, top: 14, textAlign: 'center', textVerticalAlign: 'middle', padding: 0,
    textStyle: { fontFamily: 'Liberation Serif', fontWeight: 'bold', fontSize: 17, color: '#000' },
  }];
  PANELS.forEach((p, i) => {
    grids.push({ left: p.box[0], top: p.box[1], width: p.box[2], height: p.box[3], containLabel: false });
    xAxes.push({
      type: 'value', gridIndex: i, min: p.xr[0], max: p.xr[1],
      name: 'Iteration', nameLocation: 'middle', nameGap: p.xGap,
      nameTextStyle: { fontSize: 11, color: INK, fontFamily: FONT },
      axisLine: { show: true, onZero: false, lineStyle: { color: INK, width: 0.9 } },
      axisTick: { show: true, customValues: X_TICKS, length: 3.5, lineStyle: { color: INK, width: 0.8 } },
      axisLabel: { show: true, customValues: X_TICKS, fontSize: 7.8, color: INK, margin: 5, fontFamily: FONT,
        formatter: (v: number) => String(Math.round(v)) },
      splitLine: { show: false },
    });
    const logTicks = p.ticks.map((t) => Math.log10(t));
    const labs = p.labels;
    const fs = p.labelSize ?? 8;
    yAxes.push({
      type: 'value', gridIndex: i, min: p.yr[0], max: p.yr[1], position: 'left',
      name: p.yName, nameLocation: 'middle', nameGap: p.yGap, nameRotate: 90,
      nameTextStyle: { fontSize: 11, color: INK, fontFamily: FONT },
      axisLine: { show: true, onZero: false, lineStyle: { color: INK, width: 0.9 } },
      axisTick: { show: true, customValues: logTicks, length: p.majorLen ?? 3.5, lineStyle: { color: INK, width: 0.8 } },
      axisLabel: { show: true, customValues: logTicks, fontSize: fs, color: INK, margin: 4, fontFamily: FONT,
        rich: {
          b: { fontSize: fs, lineHeight: fs + 4, verticalAlign: 'middle', color: INK, fontFamily: FONT },
          s: { fontSize: fs * 0.72, verticalAlign: 'top', color: INK, fontFamily: FONT },
        },
        formatter: (v: number) => {
          let best = ''; let bd = Infinity;
          logTicks.forEach((t, k) => { const d = Math.abs(t - v); if (d < bd) { bd = d; best = labs[k]; } });
          return richLabel(best);
        } },
      splitLine: { show: false },
    });
    yAxes.push({
      type: 'value', gridIndex: i, min: p.yr[0], max: p.yr[1], position: 'left',
      axisLine: { show: false, onZero: false },
      axisTick: { show: true, customValues: p.minor, length: 2, lineStyle: { color: INK, width: 0.6 } },
      axisLabel: { show: false },
      splitLine: { show: false },
    });
    p.series.forEach((s) => {
      const n = Math.min(s.x.length, s.y.length);
      const data: number[][] = [];
      for (let k = 0; k < n; k++) data.push([s.x[k], Math.log10(s.y[k])]);
      series.push({
        type: 'line', name: s.name, xAxisIndex: i, yAxisIndex: 2 * i, data,
        showSymbol: false, symbol: 'none', color: COLORS[s.name], clip: true, silent: true,
        lineStyle: { width: p.lw, color: COLORS[s.name] }, z: 2, animation: false,
      });
    });
    p.hl.forEach((h, k) => {
      const y = Math.log10(h.v);
      series.push({
        type: 'line', name: `ref-${i}-${k}`, xAxisIndex: i, yAxisIndex: 2 * i,
        data: [[h.x0, y], [h.x1, y]], showSymbol: false, symbol: 'none', clip: true, silent: true,
        color: h.color, lineStyle: { width: h.width, color: h.color, type: h.dash }, z: 3, animation: false,
      });
    });
    legends.push({
      data: METHODS, left: p.lg[0], top: p.lg[1], orient: 'horizontal', itemGap: p.lg[2],
      itemWidth: 18, itemHeight: p.lgH, icon: 'rect', padding: [3.5, 4],
      borderColor: '#cccccc', borderWidth: 0.8, borderRadius: 2.5, backgroundColor: '#ffffff',
      selectedMode: false, textStyle: { fontSize: 8, color: '#222', fontFamily: FONT },
    });
    graphics.push({
      type: 'text', x: p.tx, y: p.ty, silent: true,
      style: { text: p.title, fill: '#111', fontSize: 13, fontFamily: FONT, fontWeight: 'normal', align: 'center', verticalAlign: 'middle' },
    });
  });
  return {
    animation: false,
    backgroundColor: '#ffffff',
    textStyle: { fontFamily: FONT },
    title: titles,
    grid: grids,
    xAxis: xAxes,
    yAxis: yAxes,
    legend: legends,
    series,
    graphic: graphics,
  };
}

export default function App() {
  const ref = useRef<HTMLDivElement>(null);
  useEffect(() => {
    if (!ref.current) return;
    const chart = echarts.init(ref.current, undefined, { renderer: 'svg' });
    chart.setOption(buildOption() as any);
    return () => chart.dispose();
  }, []);
  return (
    <div
      ref={ref}
      style={{ position: 'fixed', left: 0, top: 0, width: 986, height: 850, background: '#ffffff' }}
    />
  );
}
